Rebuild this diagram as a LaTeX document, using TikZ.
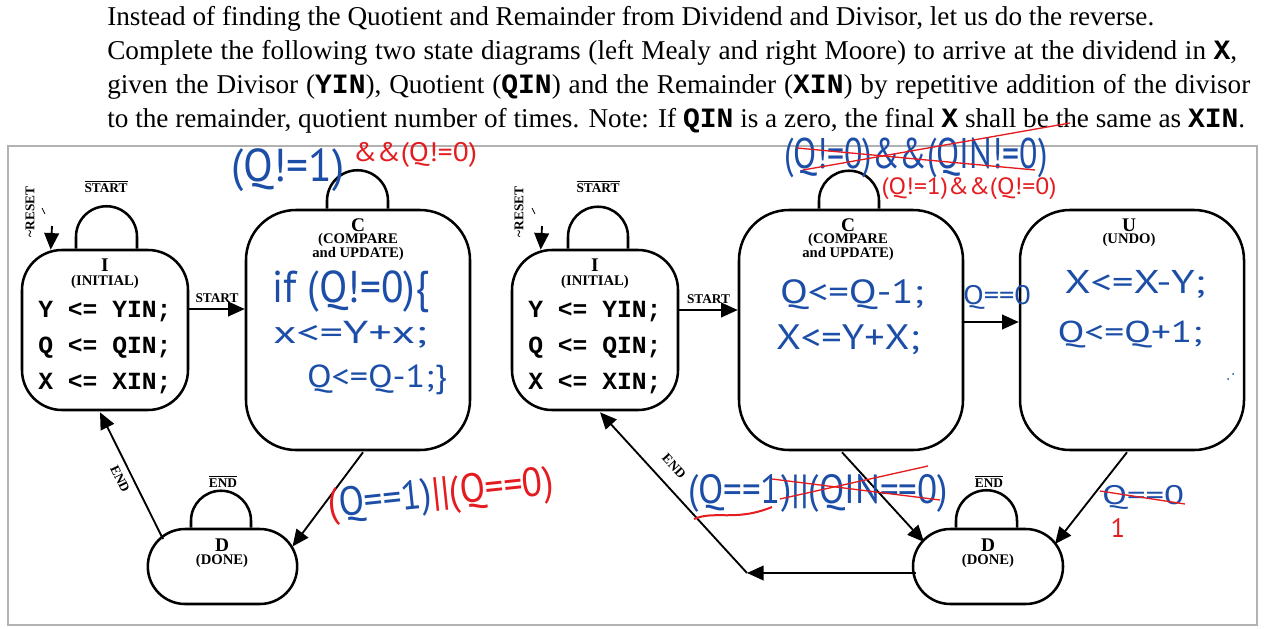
\documentclass[tikz,border=0pt]{standalone}
\usepackage{fontspec}
\usepackage{graphicx}
\setmainfont{Liberation Serif}
\newfontfamily\codefont{Liberation Mono}
\newfontfamily\hand{PT Sans}
\usetikzlibrary{arrows.meta,calc}
\newdimen\unitpx \unitpx=0.75pt
\newcommand\hw[3]{\resizebox*{#1\unitpx}{#2\unitpx}{\hand\fontsize{30}{30}\selectfont #3}}
\newcommand\cb[1]{{\codefont\bfseries\fontsize{21}{21}\selectfont #1}}
\newcommand\ovl[1]{\leavevmode\vbox{\hrule height 0.75pt\kern 1.3pt\hbox{#1}}}
\newcommand\bodyline[2]{\hbox to #1{#2}}
\definecolor{inkblue}{RGB}{28,78,168}
\definecolor{inkred}{RGB}{228,28,32}
\begin{document}
\begin{tikzpicture}[x=0.75pt,y=-0.75pt,
  state/.style={draw, line width=1.9pt, inner sep=0pt},
  conn/.style={line width=1.4pt},
  arr/.style={conn, -{Triangle[length=12.5pt,width=11pt]}},
  lp/.style={line width=1.9pt},
  title/.style={font=\bfseries\fontsize{14.5}{15}\selectfont, inner sep=0pt},
  sub/.style={font=\bfseries\fontsize{11}{12}\selectfont, inner sep=0pt},
  lab/.style={font=\bfseries\fontsize{10}{11}\selectfont, inner sep=0pt},
  code/.style={font=\codefont\bfseries\fontsize{18.5}{18.5}\selectfont, inner sep=0pt, anchor=west},
  body/.style={font=\fontsize{20.4}{22}\selectfont, inner sep=0pt, anchor=base west},
  hwb/.style={inner sep=0pt, text=inkblue},
  hwr/.style={inner sep=0pt, text=inkred},
  strike/.style={draw=inkred, line width=1pt},
]
\useasboundingbox (0,0) rectangle (1280,628);

% ---------- statement ----------
\node[body] (t1) at (107,25) {\bodyline{785.25pt}{Instead of finding the Quotient and Remainder from Dividend and Divisor, let us do the reverse.}};
\node[body] (t2) at (107,59) {\bodyline{847.5pt}{Complete the following two state diagrams (left Mealy and right Moore) to arrive at the dividend in \cb{X},}};
\node[body] (t3) at (107,93) {\bodyline{857.25pt}{given the Divisor (\cb{YIN}), Quotient (\cb{QIN}) and the Remainder (\cb{XIN}) by repetitive addition of the divisor}};
\node[body] (t4) at (107,127) {\bodyline{853.5pt}{to the remainder, quotient number of times. Note: If \cb{QIN} is a zero, the final \cb{X} shall be the same as \cb{XIN}.}};

% ---------- frame ----------
\draw[draw=black!30, line width=0.8pt] (8,146) rectangle (1257,625);

% ================= LEFT (Mealy) =================
\node[state, minimum width=124.5pt, minimum height=120pt, rounded corners=30pt] (IL) at (105,330) {};
\node[state, minimum width=168pt, minimum height=180pt, rounded corners=37.5pt] (CL) at (358,330) {};
\node[state, minimum width=112pt, minimum height=56.25pt, rounded corners=28pt] (DL) at (222.5,566.5) {};

\node[title] (ILt) at (105,265) {I};
\node[sub] (ILs) at (105,282) {(INITIAL)};
\node[code] (ILc1) at (38,312) {Y <= YIN;};
\node[code] (ILc2) at (38,348) {Q <= QIN;};
\node[code] (ILc3) at (38,384) {X <= XIN;};

\node[title] (CLt) at (358,225) {C};
\node[sub] (CLs1) at (358,240) {(COMPARE};
\node[sub] (CLs2) at (358,254) {and UPDATE)};

\node[title] (DLt) at (222,545) {D};
\node[sub] (DLs) at (222,561) {(DONE)};

% reset
\node[lab, rotate=90] (RLl) at (30,212) {\textasciitilde RESET};
\draw[line width=0.6pt] (42,208) -- (45,214);
\coordinate (RL) at (52,226);
\draw[arr] (RL) -- ($(IL.north west)+(30,1)$);

% loops
\draw[lp] ($(IL.north)+(-29,0)$) -- ++(0,-12) arc[start angle=180, end angle=360, radius=30.5] -- ++(0,12);
\node[lab] (ILloop) at (106,187) {\ovl{START}};
\draw[lp] ($(CL.north)+(-31,0)$) -- ++(0,-8) arc[start angle=180, end angle=360, radius=30.5] -- ++(0,8);
\draw[lp] ($(DL.north)+(-31.5,0)$) -- ++(0,-7) arc[start angle=180, end angle=360, radius=30] -- ++(0,7);
\node[lab] (DLloop) at (223,482) {\ovl{END}};

% transitions
\draw[arr] ($(IL.east)+(0,-21)$) -- node[lab, above=4pt] (stL) {START} ($(CL.west)+(0,-21)$);
\draw[arr] ($(CL.south)+(5,1)$) -- ($(DL.center)+(70,-20)$);
\draw[arr] ($(DL.center)+(-59.5,-27.5)$) -- ($(IL.south)+(-5,1)$);
\node[lab, rotate=-64] (endL) at (120,479) {END};

% handwriting (left)
\node[hwb] (hA) at (288,170) {\hw{113}{43}{(Q!=1)}};
\node[hwr] (hB) at (415,155) {\hw{124}{25}{\&\&(Q!=0)}};
\node[hwb] (hC) at (351,292) {\hw{157}{42}{if (Q!=0)\{}};
\node[hwb] (hD) at (350,335) {\hw{154}{27}{x<=Y+x;}};
\node[hwb] (hE) at (377,380) {\hw{140}{30}{Q<=Q-1;\}}};
\node[inner sep=0pt, rotate=6] (hF) at (441,496) {\hw{226}{38}{\textcolor{inkred}{(}\textcolor{inkblue}{Q==1)}\textcolor{inkred}{||(Q==0)}}};

% ================= RIGHT (Moore) =================
\node[state, minimum width=124.5pt, minimum height=120pt, rounded corners=30pt] (IR) at (595,330) {};
\node[state, minimum width=168pt, minimum height=180pt, rounded corners=37.5pt] (CR) at (851,330) {};
\node[state, minimum width=168pt, minimum height=180pt, rounded corners=37.5pt] (UR) at (1132,330) {};
\node[state, minimum width=112.5pt, minimum height=56.25pt, rounded corners=28pt] (DR) at (988,566.5) {};

\node[title] (IRt) at (595,265) {I};
\node[sub] (IRs) at (595,282) {(INITIAL)};
\node[code] (IRc1) at (528,312) {Y <= YIN;};
\node[code] (IRc2) at (528,348) {Q <= QIN;};
\node[code] (IRc3) at (528,384) {X <= XIN;};

\node[title] (CRt) at (848,225) {C};
\node[sub] (CRs1) at (848,240) {(COMPARE};
\node[sub] (CRs2) at (848,254) {and UPDATE)};

\node[title] (URt) at (1129,225) {U};
\node[sub] (URs) at (1129,240) {(UNDO)};

\node[title] (DRt) at (988,545) {D};
\node[sub] (DRs) at (988,561) {(DONE)};

% reset
\node[lab, rotate=90] (RRl) at (519,212) {\textasciitilde RESET};
\draw[line width=0.6pt] (532,208) -- (535,214);
\coordinate (RR) at (542,226);
\draw[arr] (RR) -- ($(IR.north west)+(30,1)$);

% loops
\draw[lp] ($(IR.north)+(-27,0)$) -- ++(0,-12) arc[start angle=180, end angle=360, radius=30] -- ++(0,12);
\node[lab] (IRloop) at (598,187) {\ovl{START}};
\draw[lp] ($(CR.north)+(-32,0)$) -- ++(0,-8) arc[start angle=180, end angle=360, radius=30] -- ++(0,8);
\draw[lp] ($(DR.north)+(-32,0)$) -- ++(0,-7) arc[start angle=180, end angle=360, radius=30.5] -- ++(0,7);
\node[lab] (DRloop) at (989,482) {\ovl{END}};

% transitions
\draw[arr] ($(IR.east)+(0,-20)$) -- node[lab, above=4pt] (stR) {START} ($(CR.west)+(0,-20)$);
\draw[arr] ($(CR.east)+(0,-8)$) -- ($(UR.west)+(0,-8)$);
\draw[arr] ($(CR.south)+(-9,1)$) -- ($(DR.center)+(-64,-24.5)$);
\draw[arr] ($(UR.south)+(-5,1)$) -- ($(DR.center)+(67,-22.5)$);
\coordinate (J) at (747,573);
\draw[arr] ($(DR.west)+(4,6.5)$) -- (J);
\draw[arr] (J) -- ($(IR.south)+(5,1)$);
\node[lab, rotate=-47.6] (endR) at (674,466) {END};

% handwriting (right)
\node[hwb] (hG) at (916,158) {\hw{263}{40}{(Q!=0)\&\&(QIN!=0)}};
\draw[strike] (803,170) -- (1070,123);
\draw[strike] (797,148) -- (1035,170);
\node[hwr] (hH) at (969,189) {\hw{175}{22}{(Q!=1)\&\&(Q!=0)}};
\node[hwb] (hI) at (852,295) {\hw{144}{30}{Q<=Q-1;}};
\node[hwb] (hJ) at (848,340) {\hw{144}{30}{X<=Y+X;}};
\node[hwb] (hK) at (997,297) {\hw{68}{24}{Q==0}};
\node[hwb] (hL) at (1135,284) {\hw{141}{28}{X<=X-Y;}};
\node[hwb] (hM) at (1130,335) {\hw{145}{27}{Q<=Q+1;}};
\fill[inkblue] (1228,379) circle (1);
\fill[inkblue] (1233,374) circle (1);
\node[hwb] (hN) at (818,493) {\hw{260}{38}{(Q==1)||(QIN==0)}};
\draw[strike] (772,479) -- (940,500);
\draw[strike] (780,499) -- (928,466);
\draw[strike, line width=1.5pt] (694,519) .. controls (715,510) and (735,522) .. (772,507);
\node[hwb] (hO) at (1143,497) {\hw{82}{24}{Q==0}};
\draw[strike] (1100,491) -- (1185,504);
\node[hwr] (hP) at (1118,528) {\resizebox{!}{19\unitpx}{\hand 1}};
\end{tikzpicture}
\end{document}
